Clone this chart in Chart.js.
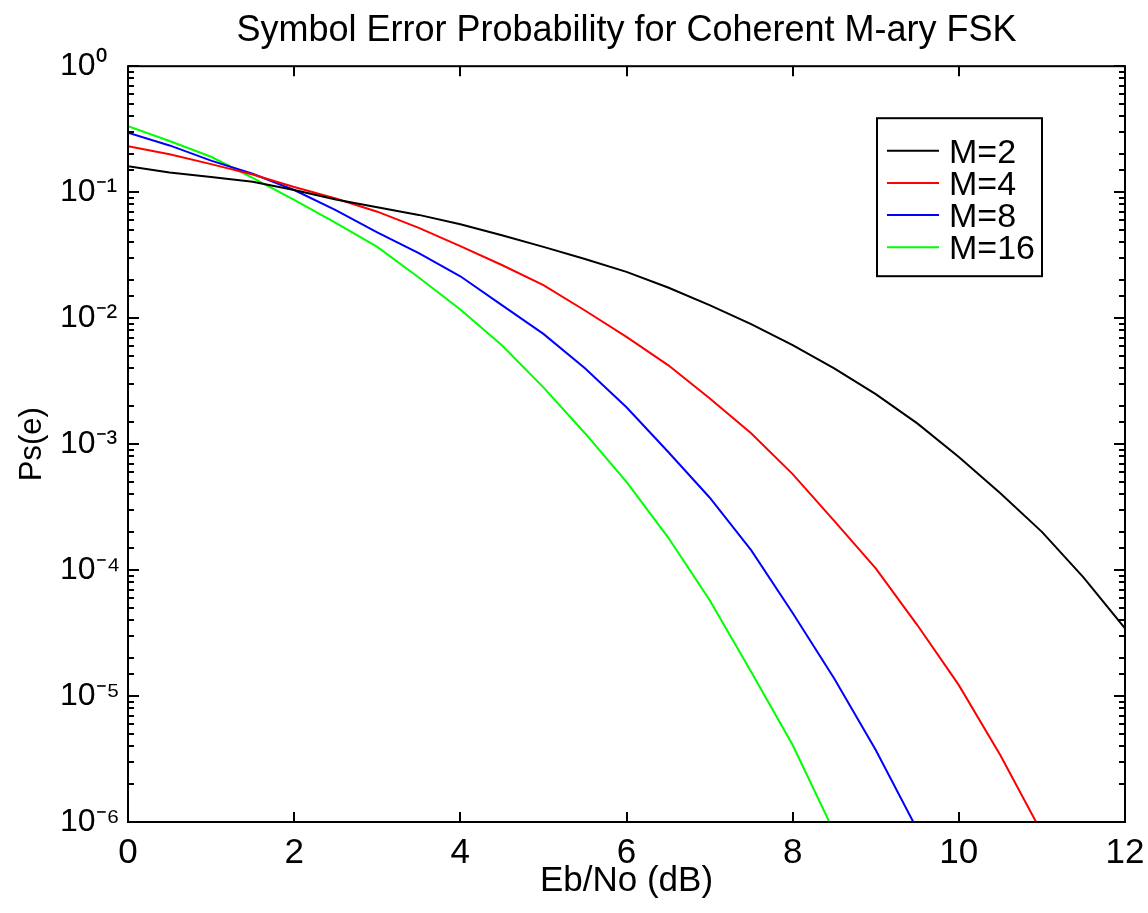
<!DOCTYPE html>
<html>
<head>
<meta charset="utf-8">
<script src="https://cdn.jsdelivr.net/npm/chart.js@4.4.1/dist/chart.umd.min.js"></script>
<style>
  html, body { margin: 0; padding: 0; background: #fff; }
  canvas { display: block; }
</style>
</head>
<body>
<canvas id="c" width="1148" height="913"></canvas>
<script>
// ---- data ----
const ebNo = [0, 0.5, 1, 1.5, 2, 2.5, 3, 3.5, 4, 4.5, 5, 5.5, 6, 6.5, 7, 7.5, 8, 8.5, 9, 9.5, 10, 10.5, 11, 11.5, 12];
const seriesLabels = ['M=2', 'M=4', 'M=8', 'M=16'];
const psM2 = [0.161, 0.143, 0.132, 0.121, 0.104, 0.0875, 0.076, 0.066, 0.0557, 0.0455, 0.0368, 0.0295, 0.0233, 0.0175, 0.0127, 0.00896, 0.0061, 0.00399, 0.00249, 0.00146, 0.00079, 0.000407, 0.000201, 8.75e-5, 3.44e-5];
const psM4 = [0.232, 0.2, 0.167, 0.138, 0.110, 0.089, 0.07, 0.052, 0.0373, 0.0264, 0.0183, 0.0115, 0.0071, 0.00424, 0.00231, 0.00122, 5.78e-4, 2.46e-4, 1.03e-4, 3.66e-5, 1.22e-5, 3.39e-6, 8.2e-7, null, null];
const psM8 = [0.296, 0.235, 0.178, 0.14, 0.104, 0.072, 0.048, 0.0328, 0.0215, 0.0127, 0.0075, 0.004, 0.00196, 8.7e-4, 3.77e-4, 1.44e-4, 4.56e-5, 1.38e-5, 3.73e-6, 8.7e-7, null, null, null, null, null];
const psM16 = [0.334, 0.255, 0.191, 0.13, 0.087, 0.057, 0.0368, 0.021, 0.0117, 0.0061, 0.00282, 0.00122, 5.02e-4, 1.82e-4, 5.78e-5, 1.56e-5, 4.08e-6, 8.3e-7, null, null, null, null, null, null, null];
const xTicks = [0, 2, 4, 6, 8, 10, 12];

const colors = ['#000000', '#ff0000', '#0000ff', '#00ff00'];
const allSeries = [psM2, psM4, psM8, psM16];

const sup = {'0':'\u2070','1':'\u00B9','2':'\u00B2','3':'\u00B3','4':'\u2074','5':'\u2075','6':'\u2076','7':'\u2077','8':'\u2078','9':'\u2079','-':'\u207B'};
function isDecade(v) { const l = Math.log10(v); return Math.abs(l - Math.round(l)) < 1e-9; }

Chart.defaults.font.family = "'Liberation Sans', Arial, Helvetica, sans-serif";
Chart.defaults.color = '#000';

const framePlugin = {
  id: 'frame',
  afterDraw(chart) {
    const {ctx, chartArea: a, scales: {x, y}} = chart;
    ctx.save();
    ctx.strokeStyle = '#000';
    ctx.lineWidth = 2;
    ctx.beginPath();
    // y ticks (log: major at decades, minor otherwise), both sides, inward
    y.ticks.forEach(t => {
      const v = t.value;
      if (v < 1e-6 - 1e-12 || v > 1 + 1e-9) return;
      const p = Math.round(y.getPixelForValue(v));
      const len = isDecade(v) ? 11 : 6;
      ctx.moveTo(a.left, p); ctx.lineTo(a.left + len, p);
      ctx.moveTo(a.right, p); ctx.lineTo(a.right - len, p);
    });
    // x ticks, top and bottom, inward
    xTicks.forEach(v => {
      const p = Math.round(x.getPixelForValue(v));
      ctx.moveTo(p, a.bottom); ctx.lineTo(p, a.bottom - 10);
      ctx.moveTo(p, a.top); ctx.lineTo(p, a.top + 10);
    });
    ctx.stroke();
    ctx.strokeRect(a.left, a.top, a.right - a.left, a.bottom - a.top);

    // legend box
    const lw = 165, lh = 158;
    const lx = a.right - 248, ly = a.top + 52;
    ctx.fillStyle = '#fff';
    ctx.fillRect(lx, ly, lw, lh);
    ctx.strokeRect(lx, ly, lw, lh);
    ctx.font = "34px 'Liberation Sans', Arial, sans-serif";
    ctx.textAlign = 'left';
    ctx.textBaseline = 'alphabetic';
    chart.data.datasets.forEach((ds, i) => {
      const cy = ly + 32.5 + i * 32.2;
      ctx.strokeStyle = ds.borderColor;
      ctx.lineWidth = 2;
      ctx.beginPath();
      ctx.moveTo(lx + 10, cy); ctx.lineTo(lx + 62, cy);
      ctx.stroke();
      ctx.fillStyle = '#000';
      ctx.fillText(ds.label, lx + 72, cy + 12);
    });
    ctx.restore();
  }
};

new Chart(document.getElementById('c'), {
  type: 'line',
  data: {
    labels: ebNo,
    datasets: allSeries.map((s, i) => ({
      label: seriesLabels[i],
      data: s.map((v, j) => ({x: ebNo[j], y: v})),
      borderColor: colors[i],
      backgroundColor: colors[i],
      borderWidth: 2,
      pointRadius: 0,
      tension: 0,
      fill: false,
      spanGaps: false
    }))
  },
  options: {
    responsive: false,
    animation: false,
    layout: { padding: { left: 60, right: 23, top: 0, bottom: 0 } },
    plugins: {
      legend: { display: false },
      tooltip: { enabled: false },
      title: {
        display: true,
        text: 'Symbol Error Probability for Coherent M-ary FSK',
        font: { size: 36, weight: 'normal' },
        color: '#000',
        fullSize: false,
        padding: { top: 9, bottom: 14 }
      }
    },
    scales: {
      x: {
        type: 'linear',
        min: 0, max: 12,
        afterBuildTicks: (s) => { s.ticks = xTicks.map(v => ({value: v})); },
        ticks: { font: { size: 35 }, padding: 10, maxRotation: 0, color: '#000' },
        grid: { display: false, drawTicks: false },
        border: { display: false },
        title: { display: true, text: 'Eb/No (dB)', font: { size: 35 }, color: '#000', padding: { top: 0, bottom: 11 } },
        afterFit: (s) => { s.height = 91; s.paddingLeft = 0; s.paddingRight = 0; }
      },
      y: {
        type: 'logarithmic',
        min: 1e-6, max: 1,
        ticks: {
          autoSkip: false,
          font: { size: 32 },
          color: '#000',
          crossAlign: 'far',
          callback: (v) => {
            if (!isDecade(v)) return '';
            const e = String(Math.round(Math.log10(v)));
            return '10' + e.split('').map(c => sup[c]).join('');
          }
        },
        grid: { display: false, drawTicks: false },
        border: { display: false },
        title: { display: true, text: 'Ps(e)', font: { size: 31 }, color: '#000', padding: { top: -46, bottom: 0 } },
        afterFit: (s) => { s.width = 68; s.paddingTop = 0; s.paddingBottom = 0; }
      }
    }
  },
  plugins: [framePlugin]
});
</script>
</body>
</html>
